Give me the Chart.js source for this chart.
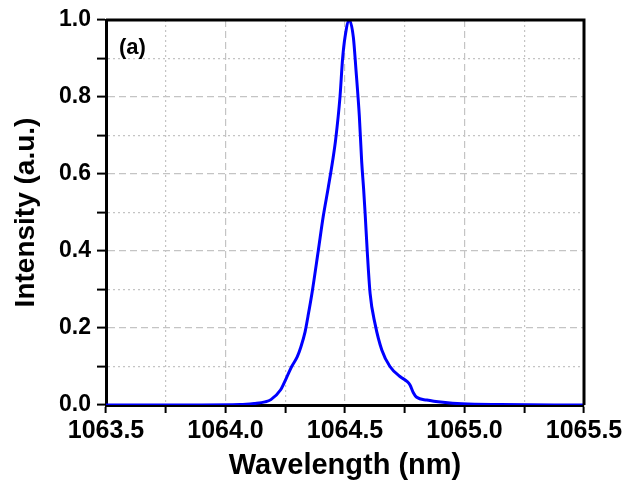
<!DOCTYPE html>
<html>
<head>
<meta charset="utf-8">
<script src="https://cdn.jsdelivr.net/npm/chart.js@4.4.0/dist/chart.umd.min.js"></script>
<style>
  html, body { margin: 0; padding: 0; background: #fff; }
  #wrap { width: 631px; height: 483px; }
</style>
</head>
<body>
<div id="wrap"><canvas id="myChart" width="631" height="483"></canvas></div>
<script>
// values
const wavelength = [
  1063.5, 1063.9, 1064.06, 1064.12, 1064.165, 1064.19, 1064.23, 1064.256, 1064.277, 1064.3,
  1064.315, 1064.333, 1064.345, 1064.363, 1064.388, 1064.409, 1064.43, 1064.4485, 1064.461, 1064.479,
  1064.49, 1064.5, 1064.518, 1064.535, 1064.546, 1064.56, 1064.57, 1064.578, 1064.584, 1064.593,
  1064.605, 1064.626, 1064.654, 1064.688, 1064.73, 1064.758, 1064.772, 1064.786, 1064.8, 1064.842,
  1064.91, 1064.99, 1065.15, 1065.5
];
const intensity = [
  0, 0, 0.001, 0.004, 0.008, 0.014, 0.039, 0.072, 0.1, 0.125,
  0.15, 0.19, 0.23, 0.295, 0.4, 0.49, 0.565, 0.635, 0.69, 0.8,
  0.9, 0.955, 1.0, 0.955, 0.87, 0.75, 0.63, 0.56, 0.5, 0.4,
  0.29, 0.21, 0.143, 0.1, 0.074, 0.062, 0.052, 0.032, 0.02, 0.013,
  0.007, 0.003, 0.001, 0
];
const xTicks = ['1063.5', '1064.0', '1064.5', '1065.0', '1065.5'];
const yTicks = ['0.0', '0.2', '0.4', '0.6', '0.8', '1.0'];

const fontFamily = "'Liberation Sans', Arial, Helvetica, sans-serif";

function isMajorX(v) {
  return Math.round(v * 4) % 2 === 0;
}
function isMajorY(v) {
  return Math.round(v * 10) % 2 === 0;
}

// frame on top and right, plus the "(a)" tag
const framePlugin = {
  id: 'frame',
  afterDraw(chart) {
    const ctx = chart.ctx;
    const a = chart.chartArea;
    ctx.save();
    ctx.strokeStyle = '#000';
    ctx.lineWidth = 3;
    ctx.beginPath();
    ctx.moveTo(a.left, a.top);
    ctx.lineTo(a.right, a.top);
    ctx.lineTo(a.right, a.bottom);
    ctx.stroke();
    ctx.fillStyle = '#000';
    ctx.font = 'bold 22px ' + fontFamily;
    ctx.textBaseline = 'alphabetic';
    ctx.fillText('(a)', a.left + 13, a.top + 34);
    ctx.restore();
  }
};

function mainEvent() {
  const chartArea = document.querySelector('#myChart');
  const points = wavelength.map((w, i) => ({ x: w, y: intensity[i] }));

  new Chart(chartArea, {
    type: 'line',
    data: {
      datasets: [{
        data: points,
        borderColor: '#0000ff',
        borderWidth: 3,
        pointRadius: 0,
        fill: false,
        cubicInterpolationMode: 'monotone'
      }]
    },
    options: {
      responsive: false,
      animation: false,
      layout: { padding: { left: 0, right: 47, top: 20, bottom: 0 } },
      plugins: { legend: { display: false }, tooltip: { enabled: false } },
      scales: {
        x: {
          type: 'linear',
          min: 1063.5,
          max: 1065.5,
          afterFit: (scale) => { scale.height = 78; },
          ticks: {
            stepSize: 0.25,
            autoSkip: false,
            maxRotation: 0,
            padding: 3,
            color: '#000',
            font: { family: fontFamily, size: 25, weight: 'bold' },
            callback: (v) => {
              if (!isMajorX(v)) return '';
              return xTicks.find((t) => Math.abs(parseFloat(t) - v) < 1e-6) || '';
            }
          },
          grid: {
            color: '#c4c4c4',
            lineWidth: 1.2,
            tickLength: 8,
            tickColor: '#000',
            tickWidth: 2
          },
          border: {
            display: true,
            color: '#000',
            width: 3,
            dash: (c) => c.tick && isMajorX(c.tick.value) ? [7, 4] : [2, 3]
          },
          title: {
            display: true,
            text: 'Wavelength (nm)',
            color: '#000',
            font: { family: fontFamily, size: 29, weight: 'bold' },
            padding: { top: 0, bottom: 0 }
          }
        },
        y: {
          min: 0,
          max: 1.0,
          afterFit: (scale) => { scale.width = 106; },
          ticks: {
            stepSize: 0.1,
            autoSkip: false,
            padding: 6,
            color: '#000',
            font: { family: fontFamily, size: 23, weight: 'bold' },
            callback: (v) => {
              if (!isMajorY(v)) return '';
              return yTicks.find((t) => Math.abs(parseFloat(t) - v) < 1e-6) || '';
            }
          },
          grid: {
            color: '#c4c4c4',
            lineWidth: 1.2,
            tickLength: 9,
            tickColor: '#000',
            tickWidth: 2
          },
          border: {
            display: true,
            color: '#000',
            width: 3,
            dash: (c) => c.tick && isMajorY(c.tick.value) ? [7, 4] : [2, 3]
          },
          title: {
            display: true,
            text: 'Intensity (a.u.)',
            color: '#000',
            font: { family: fontFamily, size: 28, weight: 'bold' },
            padding: { top: 9, bottom: 0 }
          }
        }
      }
    },
    plugins: [framePlugin]
  });
}

document.addEventListener('DOMContentLoaded', () => mainEvent());
</script>
</body>
</html>
